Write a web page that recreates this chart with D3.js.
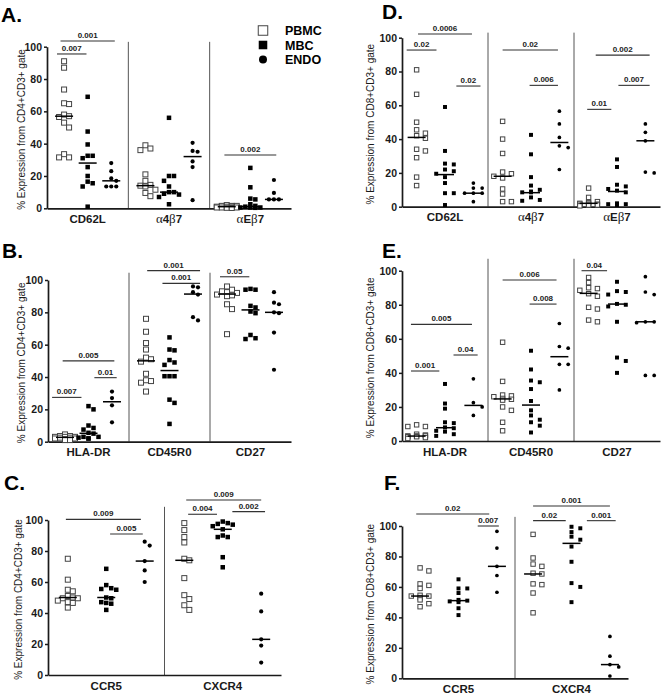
<!DOCTYPE html>
<html><head><meta charset="utf-8">
<script src="https://cdn.jsdelivr.net/npm/d3@7"></script>
<style>body{margin:0;background:#fff} svg{display:block} text{font-family:Arial,"Liberation Sans",sans-serif}</style>
</head><body><svg id="c" width="662" height="695"></svg>
<script>
const groups = ["PBMC", "MBC", "ENDO"];
const yTicks = [0, 20, 40, 60, 80, 100];
const titleCD4 = "% Expression from CD4+CD3+ gate";
const titleCD8 = "% Expression from CD8+CD3+ gate";

// Panel A (CD4)
const catsA = ["CD62L", "α4β7", "αEβ7"];
const ptsA = [
  [[91,87,73.5,65,64.5,58,57,56.5,53,50,33.5,31.5,31.5],[69,47.5,39.5,32.5,32.5,31,25.5,20,16.5,15.5,13.5,1],[28,23,18.5,17,13.5,13.5,13.5]],
  [[39,37,36,21,17,14.5,14,13.5,11.5,9.5,7.5],[56,20,20,17,13.5,10,10,9,8.5,7,2.5],[40.5,35.5,35,29,25.5,5]],
  [[2,1.5,1.5,1.5,1,1,1,0.5,0.5,0.5,0.3,0.2],[25,13,6,5.5,2.5,1.5,1,0.5,0.5,0.5,0.3],[17.5,9.5,5.5,5.5,5.5]]
];
const medA = [[57,28,17],[14,10,32],[1,1,5.5]];
const sigA = [[0,-0.3,0.95,95.5,"0.007"],[0,-0.15,2.15,103.5,"0.001"],[2,-0.1,2.1,33,"0.002"]];

// Panel B (CD4)
const catsB = ["HLA-DR", "CD45R0", "CD27"];
const ptsB = [
  [[4.5,3.5,3.5,3,3,3,2.5,2.5,2,2,1.5,1,1],[22,20,10,8.5,7.5,5.5,5,3,3,2.5,2,2],[31,27,22.5,12]],
  [[76,68,61,57,52,51,49.5,42,38,37.5,36.5,31],[64.5,57,56.5,50.5,49,47.5,40.5,40.5,40.5,26,24,11],[96,95.5,92.5,91,77,75]],
  [[96,94,93,92.5,92,91,90.5,90,85,82,66.5],[94.5,94,94,84,83,80.5,79.5,66,64,63.5],[92.5,86,85,80,79.5,67.5,44.5]]
];
const medB = [[2.7,5.2,24.7],[50,44,91.3],[91.3,81.5,80]];
const sigB = [[0,-0.55,0.7,27.4,"0.007"],[0,-0.1,2.1,50,"0.005"],[0,1.25,2.2,39.6,"0.01"],[1,0.05,2.3,105.8,"0.001"],[1,0.7,2.3,97.9,"0.001"],[2,-0.3,0.95,102,"0.05"]];

// Panel C (CD4)
const catsC = ["CCR5", "CXCR4"];
const ptsC = [
  [[75,61.5,55,54,51,50,49.5,49.5,48,47,46.5,43.5],[68.5,58,56,55.5,55,50,49.5,47,46.5,46,42],[86,83.5,73.5,67.5,60]],
  [[98,93.5,89,85.5,75,74,62.5,51.5,49,45,42],[99,98,97.5,97,96,94,90,89,89,76,69.5],[52.5,41,23,19,8]]
];
const medC = [[50,50,73.5],[74,94,23]];
const sigC = [[0,-0.05,1.9,100.4,"0.009"],[0,1.1,1.95,91,"0.005"],[1,0.1,0.85,103.7,"0.004"],[1,0.05,2,112.9,"0.009"],[1,1.25,2.1,105.4,"0.002"]];

// Panel D (CD8)
const catsD = ["CD62L", "α4β7", "αEβ7"];
const ptsD = [
  [[81,66.5,50,45.5,43.5,42,40.5,34,33,29,17.5,12.5],[59,33,25.5,25,22,21,19.5,17.5,14,8,8,1],[14,11,11,8,8,8,3]],
  [[50.5,40,31.5,20.5,19.5,18,17,10.5,7.5,3,3],[42.5,31,17.5,12.5,10,9,8.5,8.5,5.5,4,3.5],[56.5,49,41,36,35,22]],
  [[11,5.5,3,2.5,2,2,1.5,1.5,1,1,0.5],[28,23.5,13,12,10.5,9.5,8.5,2,1.5,1.5,1],[49,44,39,20.5,20]]
];
const medD = [[41,19,8],[18,8.3,38],[2,9,39]];
const sigD = [[0,-0.35,0.7,92.7,"0.02"],[0,0.05,1.95,102.2,"0.0006"],[0,1.4,2.25,71.4,"0.02"],[1,0,1.95,92.7,"0.02"],[1,0.95,1.95,71.8,"0.006"],[2,-0.05,0.8,57.6,"0.01"],[2,0.25,2.15,89.7,"0.002"],[2,1.05,2.15,71.8,"0.007"]];

// Panel E (CD8)
const catsE = ["HLA-DR", "CD45R0", "CD27"];
const ptsE = [
  [[9.5,8.5,8.5,4,3.5,3,3,3,2.5,2.5,2,1.5],[33.5,22,19,11,10.5,8,7.5,6,5.5,4,3],[36.5,22.5,20,15]],
  [[58,35,27,26.5,26,25,24.5,24,20,18,11,6],[53,42,35.5,34.5,30.5,23.5,18,15,12.5,11,9,5],[69,55.5,54.5,45,45,30]],
  [[96,93,90,89.5,88.5,86.5,85,78.5,77.5,71,70],[93.5,88,87.5,86,80.5,80,79,70,49,47,40],[96.5,87.5,86,70,70,69.5,38.5,38.5]]
];
const medE = [[2.9,7.8,20.9],[24.7,21.1,49.5],[86.7,80.4,70]];
const sigE = [[0,-0.2,0.8,41.1,"0.001"],[0,-0.2,1.95,68.5,"0.005"],[0,1.3,2.15,50.5,"0.04"],[1,0,1.9,94.5,"0.006"],[1,0.95,1.9,80.4,"0.008"],[2,-0.25,0.65,100,"0.04"]];

// Panel F (CD8)
const catsF = ["CCR5", "CXCR4"];
const ptsF = [
  [[72.5,70.5,62,61,59,54.5,54,54,53,51.5,49,47],[65,59,59,56,51.5,51,50.5,50,46,41.5],[96.5,85.5,73.5,67.5,56.5]],
  [[94.5,79,75,73.5,69,68.5,62,61.5,56,43],[99.5,98.5,96,93,91,86.5,76.5,62.5,60,50],[27.5,14.5,9,7.5,1.5]]
];
const medF = [[54,51,73.5],[68.5,88.6,9]];
const sigF = [[0,-0.1,1.8,107.9,"0.02"],[0,1.5,2.05,100,"0.007"],[1,0,0.85,103.5,"0.02"],[1,0,2,113.1,"0.001"],[1,1.4,2.15,103.5,"0.001"]];

// layout (pixels) per panel
const panels = [
  {id:"A.", cats:catsA, pts:ptsA, med:medA, sig:sigA, title:titleCD4, left:47, right:291, top:46.7, bottom:208.3, titleX:25, lab:[1,22], frac:0.29, divTop:103, ms:5},
  {id:"B.", cats:catsB, pts:ptsB, med:medB, sig:sigB, title:titleCD4, left:48, right:291, top:280, bottom:441.7, titleX:25, lab:[2,258], frac:0.29, divTop:104.5, ms:5},
  {id:"C.", cats:catsC, pts:ptsC, med:medC, sig:sigC, title:titleCD4, left:48, right:281, top:520, bottom:675, titleX:22, lab:[4,490], frac:0.33, divTop:108.5, ms:5},
  {id:"D.", cats:catsD, pts:ptsD, med:medD, sig:sigD, title:titleCD8, left:402, right:660, top:37.7, bottom:206.7, titleX:373.5, lab:[382,19], frac:0.33, divTop:103, ms:4.4},
  {id:"E.", cats:catsE, pts:ptsE, med:medE, sig:sigE, title:titleCD8, left:402, right:660, top:270.7, bottom:441, titleX:373.5, lab:[382,258], frac:0.33, divTop:107, ms:4.4},
  {id:"F.", cats:catsF, pts:ptsF, med:medF, sig:sigF, title:titleCD8, left:402, right:628, top:526, bottom:678.3, titleX:373.5, lab:[384,490], frac:0.34, divTop:106, ms:4.4}
];

const svg = d3.select("#c");
const INK = "#1a1a1a";

function dodge(vals, cx, y, s) {
  const arr = vals.map(v => ({v, py: y(v)})).sort((a, b) => a.py - b.py);
  const placed = [];
  const step = s * 1.0;
  const ks = [0, 1, -1, 2, -2];
  for (const p of arr) {
    let best = cx, bestC = Infinity;
    for (const k of ks) {
      const px = cx + k * step;
      let c = 0;
      for (const q of placed) if (Math.abs(q.px - px) < s && Math.abs(q.py - p.py) < s) c++;
      if (c < bestC) { bestC = c; best = px; }
      if (c === 0) break;
    }
    p.px = best; placed.push(p);
  }
  return placed;
}

function drawMarker(g, type, x, yy, s) {
  if (type === 0) {
    g.append("rect").attr("x", x - s/2).attr("y", yy - s/2).attr("width", s).attr("height", s)
      .attr("fill", "#fff").attr("stroke", "#444").attr("stroke-width", 1);
  } else if (type === 1) {
    g.append("rect").attr("x", x - s*0.45).attr("y", yy - s*0.45).attr("width", s*0.9).attr("height", s*0.9)
      .attr("fill", "#000");
  } else {
    g.append("circle").attr("cx", x).attr("cy", yy).attr("r", s*0.42).attr("fill", "#000");
  }
}

function catLabel(sel, txt) {
  for (const ch of txt) {
    if (ch === "α" || ch === "β") {
      sel.append("tspan").attr("font-family", "'Liberation Serif','DejaVu Serif',serif").attr("font-weight", "normal").attr("font-size", 13).text(ch);
    } else {
      sel.append("tspan").attr("font-weight", "bold").attr("font-size", 11.5).text(ch);
    }
  }
}

panels.forEach(cfg => {
  const g = svg.append("g");
  const y = d3.scaleLinear().domain([0, 100]).range([cfg.bottom, cfg.top]);
  const xc = d3.scaleBand().domain(cfg.cats).range([cfg.left, cfg.right]);
  const bw = xc.bandwidth();
  const sp = cfg.frac * bw;
  const gx = (ci, gi) => xc(cfg.cats[ci]) + bw / 2 + (gi - 1) * sp;

  // dividers
  cfg.cats.slice(1).forEach(c => {
    g.append("line").attr("x1", xc(c)).attr("x2", xc(c)).attr("y1", y(0)).attr("y2", y(cfg.divTop))
      .attr("stroke", "#555").attr("stroke-width", 1);
  });

  // y axis
  const ya = g.append("g").attr("transform", `translate(${cfg.left},0)`)
    .call(d3.axisLeft(y).tickValues(yTicks).tickSize(3).tickSizeOuter(0).tickPadding(2));
  ya.select(".domain").attr("stroke", INK).attr("stroke-width", 1.7);
  ya.selectAll(".tick line").attr("stroke", INK).attr("stroke-width", 1.5);
  ya.selectAll(".tick text").attr("font-weight", "bold").attr("font-size", 10.5).attr("fill", INK)
    .attr("font-family", "Arial,'Liberation Sans',sans-serif");

  // x axis
  const xa = g.append("g").attr("transform", `translate(0,${cfg.bottom})`)
    .call(d3.axisBottom(xc).tickSize(0).tickSizeOuter(0).tickFormat(""));
  xa.select(".domain").attr("stroke", INK).attr("stroke-width", 1.7);
  cfg.cats.forEach(c => {
    const t = g.append("text").attr("x", xc(c) + bw / 2).attr("y", cfg.bottom + 14.5)
      .attr("text-anchor", "middle").attr("fill", INK);
    catLabel(t, c);
  });

  // y title
  g.append("text").attr("transform", `translate(${cfg.titleX},${(cfg.top + cfg.bottom) / 2 + 2}) rotate(-90)`)
    .attr("text-anchor", "middle").attr("font-size", 10).attr("fill", INK).text(cfg.title);

  // panel letter
  g.append("text").attr("x", cfg.lab[0]).attr("y", cfg.lab[1]).attr("font-size", 21)
    .attr("font-weight", "bold").attr("fill", "#000").text(cfg.id);

  // points
  cfg.pts.forEach((cat, ci) => {
    cat.forEach((vals, gi) => {
      const cx = gx(ci, gi);
      const pl = dodge(vals, cx, y, cfg.ms);
      pl.forEach(p => drawMarker(g, gi, p.px, p.py, cfg.ms));
    });
  });

  // medians
  cfg.med.forEach((row, ci) => {
    row.forEach((m, gi) => {
      const cx = gx(ci, gi);
      g.append("line").attr("x1", cx - 9).attr("x2", cx + 9).attr("y1", y(m)).attr("y2", y(m))
        .attr("stroke", "#000").attr("stroke-width", 1.5);
    });
  });

  // significance bars
  cfg.sig.forEach(([ci, a, b, v, lab]) => {
    const x1 = gx(ci, a), x2 = gx(ci, b), yy = y(v);
    g.append("line").attr("x1", x1).attr("x2", x2).attr("y1", yy).attr("y2", yy)
      .attr("stroke", "#333").attr("stroke-width", 1.1);
    g.append("text").attr("x", (x1 + x2) / 2).attr("y", yy - 3).attr("text-anchor", "middle")
      .attr("font-size", 8).attr("font-weight", "bold").attr("fill", "#222").text(lab);
  });
});

// legend (panel A)
const leg = svg.append("g");
groups.forEach((name, i) => {
  const ly = 30.5 + i * 14.5;
  drawMarker(leg, i, 263, ly, 9.5);
  leg.append("text").attr("x", 285).attr("y", ly + 4.5).attr("font-size", 12.5).attr("font-weight", "bold")
    .attr("fill", "#000").text(name);
});
</script></body></html>
